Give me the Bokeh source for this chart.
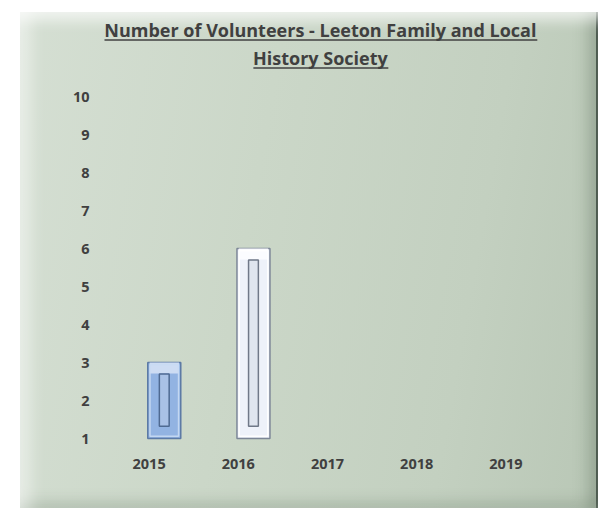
from bokeh.plotting import figure
from bokeh.models import ColumnDataSource, FactorRange, Range1d, FixedTicker, Label
from bokeh.transform import dodge
from bokeh.embed import file_html
from bokeh.resources import INLINE

# ---- data ----
years = ["2015", "2016", "2017", "2018", "2019"]
volunteers = [3, 6, float("nan"), float("nan"), float("nan")]
y_ticks = [1, 2, 3, 4, 5, 6, 7, 8, 9, 10]
title_line1 = "Number of Volunteers - Leeton Family and Local"
title_line2 = "History Society"

# ---- styles ----
bar_fill = ["#92b3e2", "#eef2fa", "#ffffff", "#ffffff", "#ffffff"]
bar_line = ["#5d7aa5", "#7d8797", "#ffffff", "#ffffff", "#ffffff"]
bar_rim = ["#c9daf3", "#ffffff", "#ffffff", "#ffffff", "#ffffff"]
bar_hi = ["#cddcf3", "#fbfcff", "#ffffff", "#ffffff", "#ffffff"]
groove_fill = ["#a9c1e6", "#dfe5ef", "#ffffff", "#ffffff", "#ffffff"]
groove_line = ["#4f6a92", "#6f7888", "#ffffff", "#ffffff", "#ffffff"]
base = 1
txt = "#404040"

src = ColumnDataSource(dict(
    year=years,
    count=volunteers,
    hi_bottom=[v - 0.29 for v in volunteers],
    rim_top=[v - 0.06 for v in volunteers],
    rim_bottom=[base + 0.06 for _ in volunteers],
    g_top=[v - 0.30 for v in volunteers],
    g_bottom=[base + 0.32 for _ in volunteers],
    fill=bar_fill, line=bar_line, rim=bar_rim, hi=bar_hi,
    gfill=groove_fill, gline=groove_line,
))

W, H = 578, 496
PX = 38.0  # pixels per y unit
ymin = 1 - 6 / PX
ymax = 10 + 84 / PX
p = figure(
    width=W, height=H,
    x_range=FactorRange(*years, range_padding=0),
    y_range=Range1d(ymin, ymax),
    output_backend="svg", toolbar_location=None, title=None,
    min_border_left=84, min_border_right=48, min_border_top=0, min_border_bottom=H - 432,
)
p.margin = (12, 0, 0, 20)
p.border_fill_color = None
p.background_fill_color = None
p.outline_line_color = None
p.styles = {
    "background": "linear-gradient(100deg, #d5dfd3 0%, #cbd7c8 40%, #c3d0c0 75%, #b9c7b6 100%)",
    "box-shadow": ("inset 0 16px 14px -8px rgba(255,255,255,0.7), "
                   "inset 18px 0 16px -8px rgba(255,255,255,0.5), "
                   "inset -18px 0 16px -10px rgba(70,90,70,0.35), "
                   "inset 0 -14px 14px -8px rgba(90,110,90,0.25), "
                   "inset -2px 0 0 0 #46524a"),
}

xpos = dodge("year", 0.17, range=p.x_range)
p.vbar(x=xpos, top="count", bottom=base, width=0.37, source=src,
       fill_color="fill", line_color="line", line_width=1.5)
p.vbar(x=xpos, top="count", bottom="hi_bottom", width=0.33, source=src,
       fill_color="hi", line_color=None)
p.vbar(x=xpos, top="rim_top", bottom="rim_bottom", width=0.32, source=src,
       fill_color=None, line_color="rim", line_width=1.5, line_alpha=0.9)
p.vbar(x=xpos, top="g_top", bottom="g_bottom", width=0.11, source=src,
       fill_color="gfill", line_color="gline", line_width=1.5)

for ax in (p.xaxis, p.yaxis):
    ax.axis_line_color = None
    ax.major_tick_line_color = None
    ax.minor_tick_line_color = None
    ax.major_tick_out = 0
    ax.major_tick_in = 0
    ax.minor_tick_out = 0
    ax.major_label_text_font = "Open Sans"
    ax.major_label_text_font_style = "bold"
    ax.major_label_text_font_size = "14.5px"
    ax.major_label_text_color = txt
p.yaxis.ticker = FixedTicker(ticks=y_ticks)
p.yaxis.major_label_standoff = 15
p.xaxis.major_label_standoff = 14
p.xgrid.grid_line_color = None
p.ygrid.grid_line_color = None

# title (two underlined lines)
shift = 7.4  # px correction for how the label baseline lands
for text, base_px, x0, x1 in [(title_line1, 25, -0.011, 4.852),
                              (title_line2, 53, 1.669, 3.182)]:
    p.add_layout(Label(x=2.42, y=ymax - (base_px - shift) / PX, text=text,
                       text_align="center", text_baseline="alphabetic",
                       text_font="Open Sans", text_font_style="bold",
                       text_font_size="18px", text_color=txt))
    yu = ymax - (base_px + 2.5) / PX
    p.segment(x0=[x0], x1=[x1], y0=[yu], y1=[yu], line_color=txt, line_width=1.6)

html = file_html(p, INLINE)
html = html.replace("<body>", '<body style="background:#dde3df">', 1)
open("out.html", "w").write(html)
